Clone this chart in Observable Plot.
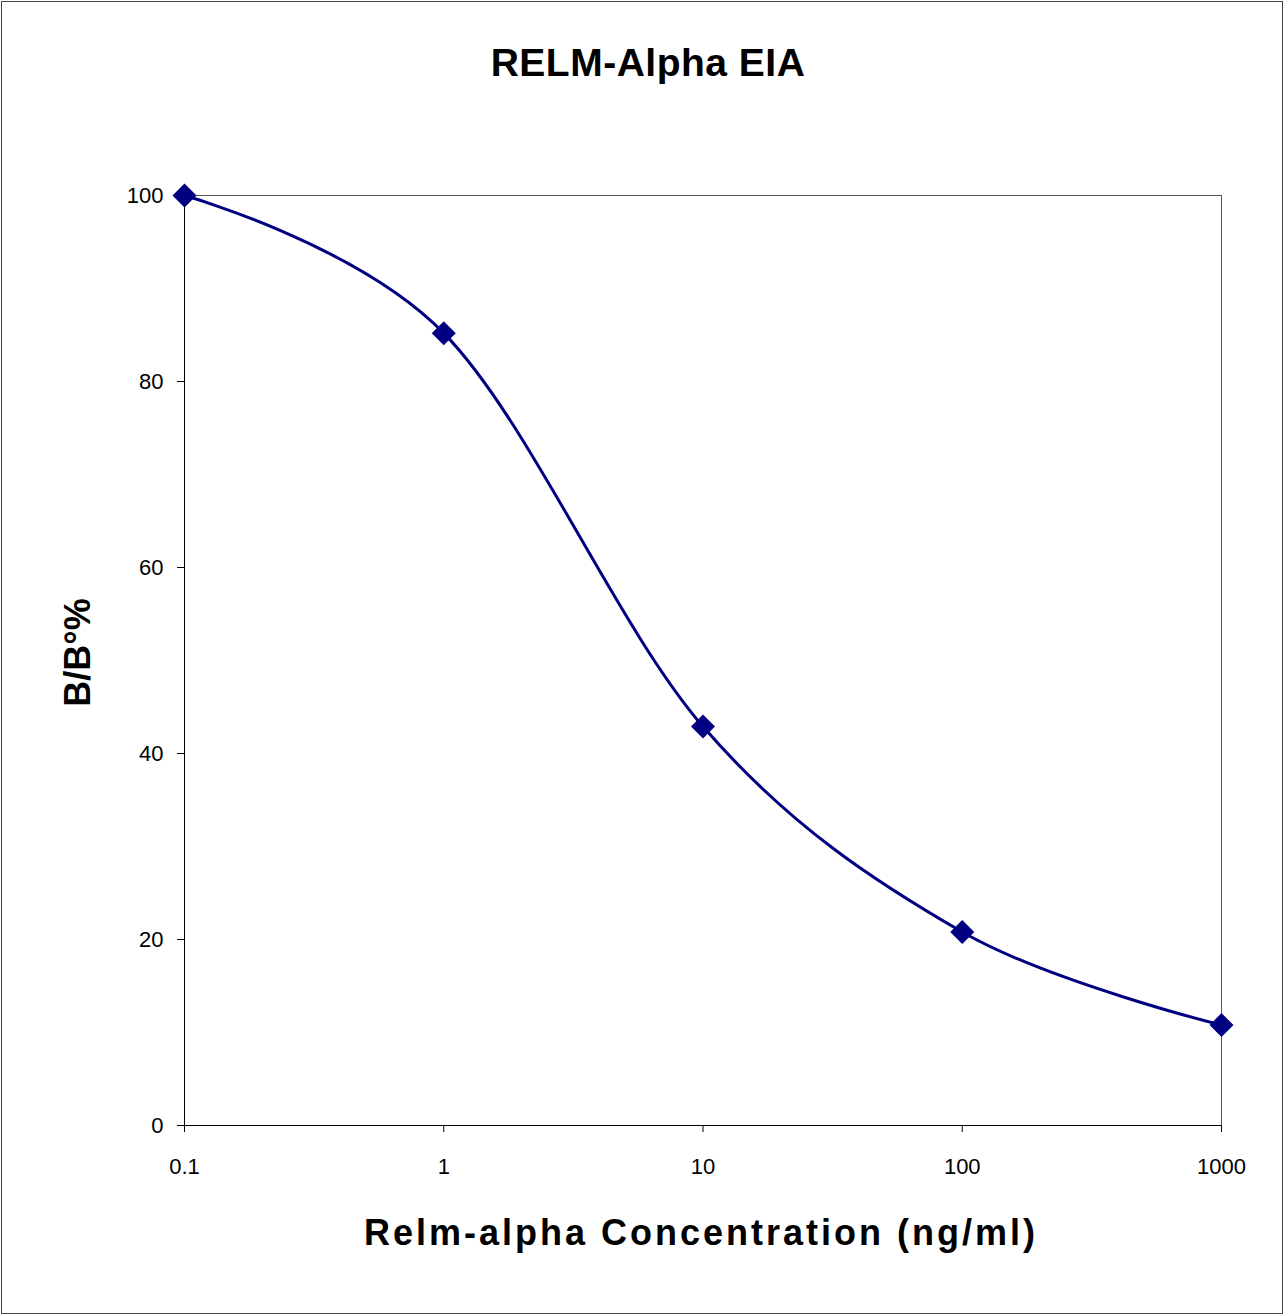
<!DOCTYPE html>
<html>
<head>
<meta charset="utf-8">
<script src="https://cdn.jsdelivr.net/npm/d3@7"></script>
<script src="https://cdn.jsdelivr.net/npm/@observablehq/plot@0.6"></script>
<style>
  html, body { margin: 0; padding: 0; background: #fff; }
  svg { display: block; }
</style>
</head>
<body>
<div id="chart"></div>
<script>
const concentrations = [0.1, 1, 10, 100, 1000];
const bValues = [100, 85.2, 42.9, 20.8, 10.8];
const xTicks = [0.1, 1, 10, 100, 1000];
const yTicks = [0, 20, 40, 60, 80, 100];
const titleText = "RELM-Alpha EIA";
const xLabel = "Relm-alpha Concentration (ng/ml)";
const yLabel = "B/B°%";

const data = concentrations.map((c, i) => ({c, v: bValues[i]}));
const navy = "#000080";

const chart = Plot.plot({
  width: 1284,
  height: 1315,
  marginLeft: 184,
  marginRight: 63,
  marginTop: 195,
  marginBottom: 190,
  style: {fontFamily: "'Liberation Sans', Arial, sans-serif", fontSize: "22px", color: "#000", background: "#fff"},
  x: {type: "log", domain: [0.1, 1000], ticks: xTicks, tickFormat: d3.format("~g"), label: null},
  y: {domain: [0, 100], ticks: yTicks, label: null},
  marks: [
    Plot.frame({stroke: "#444", insetTop: -194, insetLeft: -183, insetRight: -61, insetBottom: -188}),
    Plot.frame({stroke: "#555"}),
    Plot.axisX({ticks: xTicks, tickFormat: d3.format("~g"), tickSize: 7, tickPadding: 26, label: null, fontSize: 22}),
    Plot.axisY({ticks: yTicks, tickSize: 7, tickPadding: 14, label: null, fontSize: 22}),
    Plot.ruleX([0.1], {stroke: "#000"}),
    Plot.ruleY([0], {stroke: "#000"}),
    Plot.line(data, {x: "c", y: "v", stroke: navy, strokeWidth: 3, curve: "cardinal"}),
    Plot.dot(data, {x: "c", y: "v", symbol: "diamond2", r: 10.8, fill: navy, stroke: "none"}),
    Plot.text([titleText], {text: d => d, frameAnchor: "top", textAnchor: "middle", dx: -55, dy: -147, fontSize: 39, fontWeight: "bold", fill: "#000"}),
    Plot.text([xLabel], {text: d => d, frameAnchor: "bottom", textAnchor: "middle", dx: -2, dy: 119, fontSize: 36, fontWeight: "bold", fill: "#000"}),
    Plot.text([yLabel], {text: d => d, frameAnchor: "left", textAnchor: "middle", rotate: -90, dx: -106, dy: -8, fontSize: 36, fontWeight: "bold", fill: "#000"})
  ]
});
d3.select(chart).selectAll("text").each(function() {
  const t = this.textContent;
  if (t === xLabel) this.setAttribute("letter-spacing", "3px");
  if (t === titleText) this.setAttribute("letter-spacing", "0.5px");
});
document.getElementById("chart").appendChild(chart);
</script>
</body>
</html>
